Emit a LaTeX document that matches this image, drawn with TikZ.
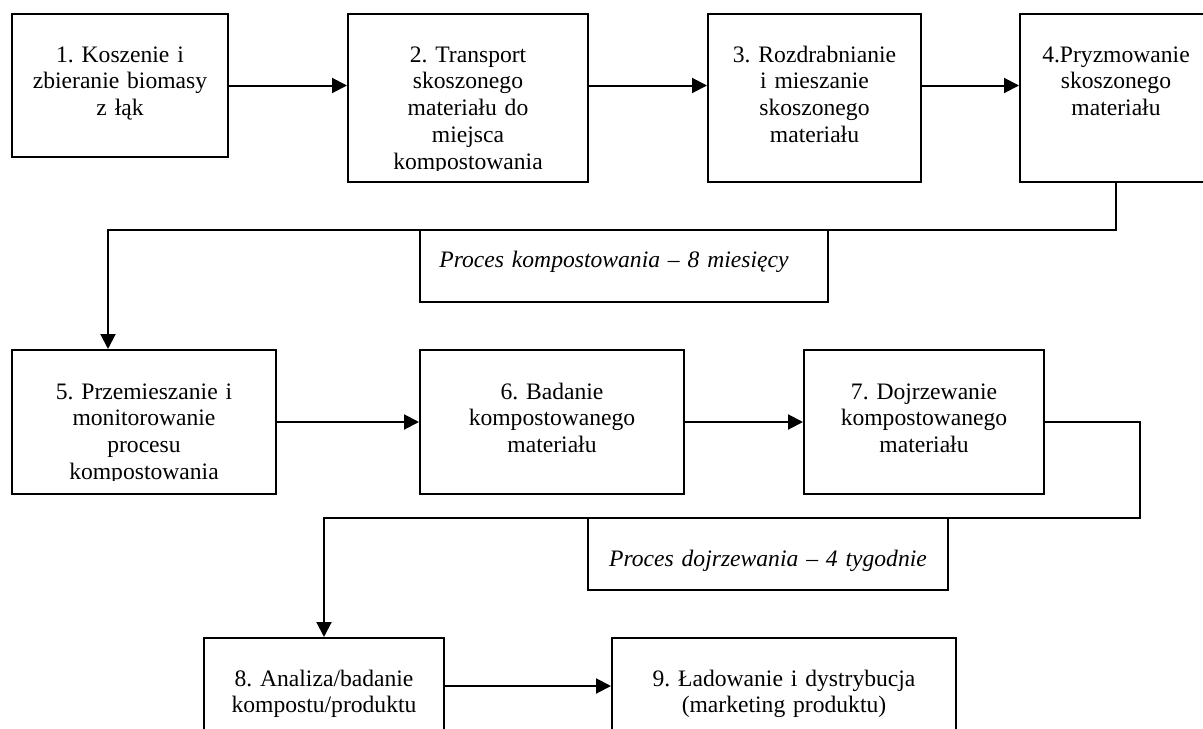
\documentclass[tikz,border=0pt]{standalone}
\usepackage{fontspec}
\setmainfont{Liberation Serif}
\usetikzlibrary{arrows.meta}
\frenchspacing

\tikzset{
  stepbox/.style={draw, line width=1pt, inner sep=0pt},
  steptext/.style={anchor=base, align=center, inner sep=0pt, font=\fontsize{11.8}{13.4}\selectfont},
  timetext/.style={steptext, font=\fontsize{11.8}{13.4}\selectfont\itshape},
  flow/.style={line width=1pt, -{Triangle[length=7.5pt,width=7.5pt]}}
}

\begin{document}
\begin{tikzpicture}[x=0.5pt, y=-0.5pt]
	%%%%% PAGE %%%%%
	\fill[white] (0,0) rectangle (1203,728);
	\clip (0,0) rectangle (1203,728);
	
	%%%%% ROW 1 %%%%%
	\node[stepbox, minimum width=108pt, minimum height=71.5pt] (s1) at (120,85.5) {};
	\node[stepbox, minimum width=120pt, minimum height=84pt] (s2) at (468,98) {};
	\node[stepbox, minimum width=106.5pt, minimum height=84pt] (s3) at (814.5,98) {};
	\node[stepbox, minimum width=96pt, minimum height=84pt] (s4) at (1116,98) {};
	
	\node[steptext, text width=108pt] (t1) at ([yshift=-24.5pt]s1.north) {1. Koszenie i\\zbieranie biomasy\\z łąk};
	\begin{scope}
		\clip ([yshift=6.5pt]s2.south west) rectangle (s2.north east);
		\node[steptext, text width=120pt] (t2) at ([yshift=-24.5pt]s2.north) {2. Transport\\skoszonego\\materiału do\\miejsca\\kompostowania};
	\end{scope}
	\node[steptext, text width=106.5pt] (t3) at ([yshift=-24.5pt]s3.north) {3. Rozdrabnianie\\i mieszanie\\skoszonego\\materiału};
	\node[steptext, text width=96pt] (t4) at ([yshift=-24.5pt]s4.north) {4.Pryzmowanie\\skoszonego\\materiału};
	
	\draw[flow] (s1.east) -- (s1.east -| s2.west);
	\draw[flow] (s1.east -| s2.east) -- (s1.east -| s3.west);
	\draw[flow] (s1.east -| s3.east) -- (s1.east -| s4.west);
	
	%%%%% COMPOSTING %%%%%
	\node[stepbox, minimum width=204pt, minimum height=36pt] (l1) at (624,266) {};
	\node[timetext, text width=204pt] (tl1) at ([xshift=-5pt,yshift=-19pt]l1.north) {Proces kompostowania – 8 miesięcy};
	\coordinate (k1) at (108,230);
	
	%%%%% ROW 2 %%%%%
	\node[stepbox, minimum width=132pt, minimum height=72pt] (s5) at (144,422) {};
	\node[stepbox, minimum width=132pt, minimum height=72pt] (s6) at (552,422) {};
	\node[stepbox, minimum width=120pt, minimum height=72pt] (s7) at (924,422) {};
	
	\begin{scope}
		\clip ([yshift=7.5pt]s5.south west) rectangle (s5.north east);
		\node[steptext, text width=132pt] (t5) at ([yshift=-25pt]s5.north) {5. Przemieszanie i\\monitorowanie\\procesu\\kompostowania};
	\end{scope}
	\node[steptext, text width=132pt] (t6) at ([yshift=-25pt]s6.north) {6. Badanie\\kompostowanego\\materiału};
	\node[steptext, text width=120pt] (t7) at ([yshift=-25pt]s7.north) {7. Dojrzewanie\\kompostowanego\\materiału};
	
	\draw[flow] (s4.south) |- (k1) -- (k1 |- s5.north);
	\draw[flow] (s5) -- (s6);
	\draw[flow] (s6) -- (s7);
	
	%%%%% RIPENING %%%%%
	\node[stepbox, minimum width=180pt, minimum height=36pt] (l2) at (768,554) {};
	\node[timetext, text width=180pt] (tl2) at ([yshift=-24.5pt]l2.north) {Proces dojrzewania – 4 tygodnie};
	\coordinate (k2) at (1140,518);
	
	%%%%% ROW 3 %%%%%
	\node[stepbox, minimum width=120pt, minimum height=48pt] (s8) at (324,686) {};
	\node[stepbox, minimum width=172pt, minimum height=48pt] (s9) at (784,686) {};
	
	\node[steptext, text width=120pt] (t8) at ([yshift=-24.5pt]s8.north) {8. Analiza/badanie\\kompostu/produktu};
	\node[steptext, text width=172pt] (t9) at ([yshift=-24.5pt]s9.north) {9. Ładowanie i dystrybucja\\(marketing produktu)};
	
	\draw[flow] (s7.east) -| (k2) -| (s8.north);
	\draw[flow] (s8) -- (s9);
\end{tikzpicture}
\end{document}
